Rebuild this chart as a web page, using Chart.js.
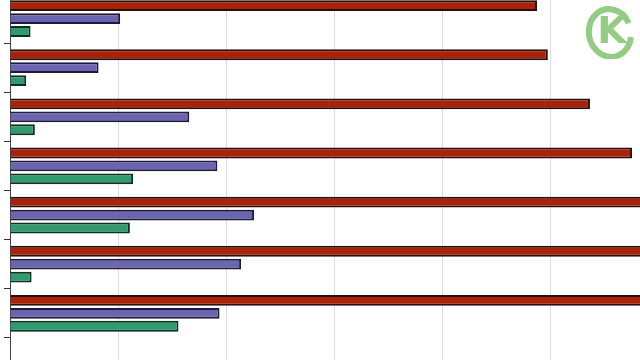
<!DOCTYPE html>
<html>
<head>
<meta charset="utf-8">
<script src="https://cdn.jsdelivr.net/npm/chart.js@4/dist/chart.umd.min.js"></script>
<style>
  html, body { margin: 0; padding: 0; width: 640px; height: 360px; overflow: hidden; background: #ffffff; }
  #wrap { position: absolute; left: 0; top: -6px; width: 658px; height: 393px; }
  #logo { position: absolute; left: 583px; top: 2px; width: 57px; height: 57px; }
</style>
</head>
<body>
<div id="wrap"><canvas id="c"></canvas></div>
<canvas id="logo" width="57" height="57"></canvas>
<script>
// Data (value axis: one grid step = 1 unit)
const categories = ['1', '2', '3', '4', '5', '6', '7', ''];
const seriesRed    = [4.88, 4.98, 5.37, 5.76, 6.05, 6.15, 6.25, null];
const seriesPurple = [1.02, 0.82, 1.66, 1.92, 2.26, 2.14, 1.94, null];
const seriesGreen  = [0.19, 0.15, 0.23, 1.14, 1.11, 0.20, 1.56, null];

new Chart(document.getElementById('c'), {
  type: 'bar',
  data: {
    labels: categories,
    datasets: [
      { label: 'A', data: seriesRed,    backgroundColor: '#a9230a', borderColor: '#2a0e0a', borderWidth: 2 },
      { label: 'B', data: seriesPurple, backgroundColor: '#6b65b1', borderColor: '#1e1a3e', borderWidth: 2 },
      { label: 'C', data: seriesGreen,  backgroundColor: '#2f9b6e', borderColor: '#0f3020', borderWidth: 2 }
    ]
  },
  options: {
    indexAxis: 'y',
    responsive: true,
    maintainAspectRatio: false,
    animation: false,
    layout: { padding: { left: 4, right: 0, top: 0, bottom: 0 } },
    categoryPercentage: 0.79,
    barPercentage: 0.84,
    plugins: { legend: { display: false }, tooltip: { enabled: false } },
    scales: {
      x: {
        min: 0, max: 6,
        ticks: { display: false, stepSize: 1 },
        grid: { color: '#dcdcdc', lineWidth: 1, drawTicks: false },
        border: { display: false }
      },
      y: {
        ticks: { display: false },
        grid: { drawOnChartArea: false, drawTicks: true, tickLength: 6, color: '#333333', offset: true },
        border: { display: true, color: '#444444', width: 1 }
      }
    }
  }
});

// watermark-like logo in the top-right corner
const lg = document.getElementById('logo').getContext('2d');
lg.strokeStyle = '#93cc82';
lg.lineWidth = 6;
lg.beginPath();
lg.ellipse(27, 31, 21, 24, -0.2, 0.35, Math.PI * 2 - 0.25);
lg.stroke();
lg.fillStyle = '#93cc82';
lg.font = 'bold 38px "DejaVu Sans"';
lg.textAlign = 'center';
lg.textBaseline = 'middle';
lg.fillText('K', 29, 31);
</script>
</body>
</html>
